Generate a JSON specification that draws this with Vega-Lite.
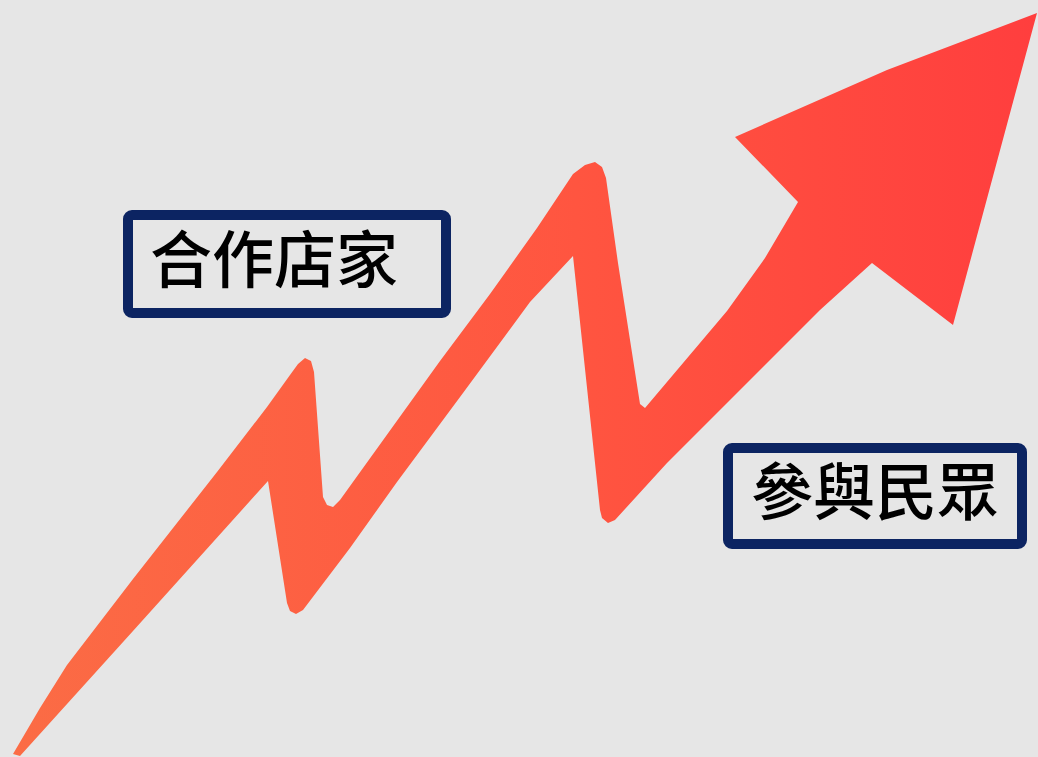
{
  "$schema": "https://vega.github.io/schema/vega-lite/v6.json",
  "width": 1038,
  "height": 757,
  "autosize": {"type": "fit", "contains": "padding"},
  "padding": 0,
  "background": "#E6E6E6",
  "config": {"view": {"stroke": null}},
  "datasets": {
    "arrow": [
      {"i": 1, "x": 13, "y": 754},
      {"i": 2, "x": 40, "y": 708},
      {"i": 3, "x": 67, "y": 665},
      {"i": 4, "x": 133, "y": 579},
      {"i": 5, "x": 217, "y": 472},
      {"i": 6, "x": 267, "y": 407},
      {"i": 7, "x": 290, "y": 375},
      {"i": 8, "x": 298, "y": 364},
      {"i": 9, "x": 305, "y": 358},
      {"i": 10, "x": 311, "y": 361},
      {"i": 11, "x": 314, "y": 372},
      {"i": 12, "x": 323, "y": 497},
      {"i": 13, "x": 327, "y": 505},
      {"i": 14, "x": 333, "y": 507},
      {"i": 15, "x": 340, "y": 500},
      {"i": 16, "x": 440, "y": 361},
      {"i": 17, "x": 490, "y": 294},
      {"i": 18, "x": 537, "y": 228},
      {"i": 19, "x": 573, "y": 174},
      {"i": 20, "x": 585, "y": 165},
      {"i": 21, "x": 595, "y": 162},
      {"i": 22, "x": 602, "y": 167},
      {"i": 23, "x": 606, "y": 178},
      {"i": 24, "x": 618, "y": 263},
      {"i": 25, "x": 640, "y": 404},
      {"i": 26, "x": 645, "y": 408},
      {"i": 27, "x": 727, "y": 311},
      {"i": 28, "x": 765, "y": 258},
      {"i": 29, "x": 798, "y": 202},
      {"i": 30, "x": 735, "y": 137},
      {"i": 31, "x": 887, "y": 70},
      {"i": 32, "x": 1037, "y": 13},
      {"i": 33, "x": 953, "y": 325},
      {"i": 34, "x": 872, "y": 263},
      {"i": 35, "x": 820, "y": 310},
      {"i": 36, "x": 733, "y": 397},
      {"i": 37, "x": 667, "y": 463},
      {"i": 38, "x": 615, "y": 520},
      {"i": 39, "x": 608, "y": 523},
      {"i": 40, "x": 602, "y": 518},
      {"i": 41, "x": 600, "y": 510},
      {"i": 42, "x": 573, "y": 256},
      {"i": 43, "x": 530, "y": 302},
      {"i": 44, "x": 463, "y": 393},
      {"i": 45, "x": 397, "y": 482},
      {"i": 46, "x": 350, "y": 548},
      {"i": 47, "x": 303, "y": 610},
      {"i": 48, "x": 296, "y": 614},
      {"i": 49, "x": 290, "y": 611},
      {"i": 50, "x": 287, "y": 603},
      {"i": 51, "x": 268, "y": 481},
      {"i": 52, "x": 133, "y": 631},
      {"i": 53, "x": 20, "y": 756}
    ],
    "labels": [
      {"label": "合作店家", "x1": 128, "x2": 446, "y1": 215, "y2": 313, "tx": 150, "ty": 264},
      {"label": "參與民眾", "x1": 728, "x2": 1022, "y1": 448, "y2": 544, "tx": 751, "ty": 496}
    ]
  },
  "layer": [
    {
      "data": {"name": "arrow"},
      "mark": {
        "type": "line",
        "filled": true,
        "interpolate": "linear-closed",
        "fill": {
          "gradient": "linear",
          "x1": 0, "y1": 0, "x2": 1, "y2": 0,
          "stops": [
            {"offset": 0, "color": "#FB6C45"},
            {"offset": 0.55, "color": "#FF5540"},
            {"offset": 1, "color": "#FF3E3E"}
          ]
        },
        "strokeWidth": 0
      },
      "encoding": {
        "x": {"field": "x", "type": "quantitative", "scale": {"domain": [0, 1038], "nice": false, "zero": false}, "axis": null},
        "y": {"field": "y", "type": "quantitative", "scale": {"domain": [0, 757], "nice": false, "zero": false, "reverse": true}, "axis": null},
        "order": {"field": "i", "type": "quantitative"}
      }
    },
    {
      "data": {"name": "labels"},
      "mark": {"type": "rect", "fill": "#E6E6E6", "stroke": "#0C2462", "strokeWidth": 10, "cornerRadius": 4},
      "encoding": {
        "x": {"field": "x1", "type": "quantitative", "scale": {"domain": [0, 1038], "nice": false, "zero": false}, "axis": null},
        "x2": {"field": "x2"},
        "y": {"field": "y1", "type": "quantitative", "scale": {"domain": [0, 757], "nice": false, "zero": false, "reverse": true}, "axis": null},
        "y2": {"field": "y2"}
      }
    },
    {
      "data": {"name": "labels"},
      "mark": {"type": "text", "align": "left", "baseline": "middle", "font": "Noto Sans CJK TC", "fontSize": 62, "fontWeight": 500, "color": "#000000"},
      "encoding": {
        "x": {"field": "tx", "type": "quantitative", "scale": {"domain": [0, 1038], "nice": false, "zero": false}, "axis": null},
        "y": {"field": "ty", "type": "quantitative", "scale": {"domain": [0, 757], "nice": false, "zero": false, "reverse": true}, "axis": null},
        "text": {"field": "label"}
      }
    }
  ]
}
